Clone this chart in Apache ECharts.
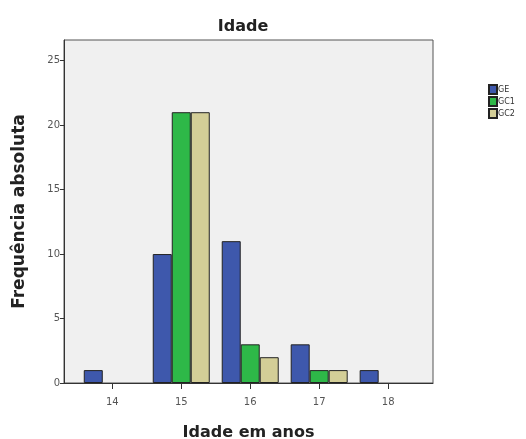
<!DOCTYPE html>
<html><head><meta charset="utf-8">
<script src="https://cdn.jsdelivr.net/npm/echarts@6/dist/echarts.min.js"></script>
<style>html,body{margin:0;padding:0;background:#fff}#c{width:526px;height:439px}</style>
</head><body><div id="c"></div>
<script>
const ages = [14, 15, 16, 17, 18];
const GE = [1, 10, 11, 3, 1];
const GC1 = [0, 21, 3, 1, 0];
const GC2 = [0, 21, 2, 1, 0];
const yTicks = [0, 5, 10, 15, 20, 25];
const seriesNames = ['GE', 'GC1', 'GC2'];
const colors = ['#3E58AC', '#2EB848', '#D3CE97'];

const chart = echarts.init(document.getElementById('c'));
const mk = (name, vals, i) => ({
  name, type: 'bar', barWidth: 19, barGap: '0%',
  data: ages.map((a, k) => [a, vals[k] === 0 ? '-' : vals[k]]),
  itemStyle: { color: colors[i], borderColor: '#222', borderWidth: 1 },
  emphasis: { disabled: true }
});
chart.setOption({
  animation: false,
  textStyle: { fontFamily: 'DejaVu Sans' },
  title: { text: 'Idade', left: 238, textAlign: 'center', top: 14,
    textStyle: { fontSize: 16, fontWeight: 'bold', color: '#222' } },
  legend: { orient: 'vertical', left: 483, top: 79, itemWidth: 8, itemHeight: 9, itemGap: 1,
    icon: 'rect', data: seriesNames,
    textStyle: { fontSize: 8, color: '#333', padding: [0, 0, 0, -4] } },
  grid: { left: 64, right: 93, top: 40, bottom: 56, show: true, outerBoundsMode: 'none',
    backgroundColor: '#f0f0f0', borderColor: '#555', borderWidth: 1 },
  xAxis: { type: 'value', min: 13.3, max: 18.65,
    name: 'Idade em anos', nameLocation: 'middle', nameGap: 42,
    nameTextStyle: { fontSize: 16, fontWeight: 'bold', color: '#222' },
    axisLine: { lineStyle: { color: '#333' } },
    axisTick: { show: true, length: 6, customValues: ages, lineStyle: { color: '#333' } },
    axisLabel: { customValues: ages, fontSize: 10, color: '#555', margin: 14 },
    splitLine: { show: false } },
  yAxis: { type: 'value', min: 0, max: 26.6,
    name: 'Frequência absoluta', nameLocation: 'middle', nameGap: 36,
    nameTextStyle: { fontSize: 17, fontWeight: 'bold', color: '#222' },
    axisLine: { show: true, lineStyle: { color: '#333' } },
    axisTick: { show: true, length: 4, customValues: yTicks, lineStyle: { color: '#333' } },
    axisLabel: { customValues: yTicks, fontSize: 10, color: '#555', margin: 4 },
    splitLine: { show: false } },
  series: [mk('GE', GE, 0), mk('GC1', GC1, 1), mk('GC2', GC2, 2)]
});
</script></body></html>
